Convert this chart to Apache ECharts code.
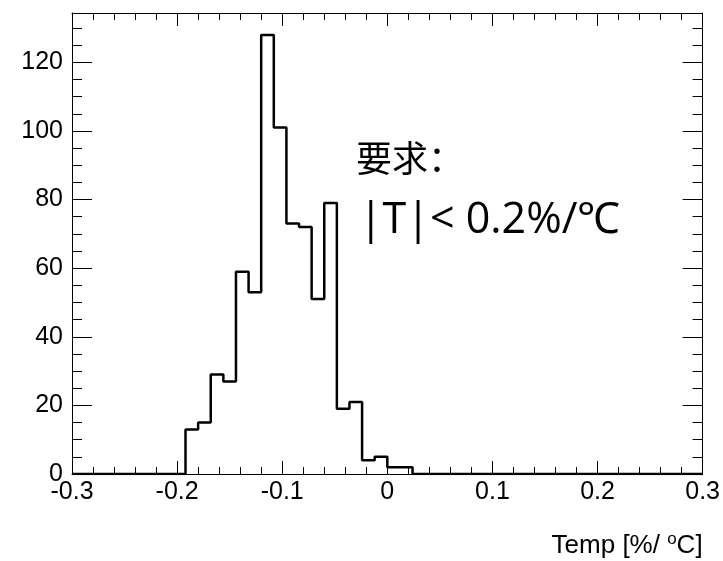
<!DOCTYPE html>
<html>
<head>
<meta charset="utf-8">
<script src="https://cdn.jsdelivr.net/npm/echarts@6/dist/echarts.min.js"></script>
<style>html,body{margin:0;padding:0;background:#fff}#c{width:723px;height:561px}</style>
</head>
<body>
<div id="c"></div>
<script>
// Histogram: 50 bins from -0.3 to 0.3 (width 0.012)
var xMin = -0.3;
var xMax = 0.3;
var binWidth = 0.012;
var counts = [0,0,0,0,0,0,0,0,0,13,15,29,27,59,53,128,101,73,72,51,79,19,21,4,5,2,2,0,0,0,0,0,0,0,0,0,0,0,0,0,0,0,0,0,0,0,0,0,0,0];
var yMax = 134.4;
var xTicks = [-0.3,-0.2,-0.1,0,0.1,0.2,0.3];
var yTicks = [0,20,40,60,80,100,120];
var noteLine1 = '要求：';
var noteLine2 = '|T|< 0.2%/℃';

var stepData = [];
for (var i = 0; i < counts.length; i++) {
  stepData.push([+(xMin + i * binWidth).toFixed(4), counts[i]]);
}
stepData.push([xMax, counts[counts.length - 1]]);

var chart = echarts.init(document.getElementById('c'), null, {renderer: 'canvas'});
var axisLineStyle = {color: '#000', width: 1};
var lblFont = {fontFamily: 'Liberation Sans, Arial, sans-serif', fontSize: 25, color: '#000'};

chart.setOption({
  animation: false,
  backgroundColor: '#fff',
  grid: {left: 72, right: 19, top: 13, bottom: 87, containLabel: false},
  xAxis: [{
    type: 'value', min: xMin, max: xMax, interval: 0.1, position: 'bottom',
    axisLine: {show: true, onZero: false, lineStyle: axisLineStyle},
    axisTick: {show: true, inside: true, length: 13, lineStyle: axisLineStyle},
    minorTick: {show: true, splitNumber: 5, length: 7, lineStyle: axisLineStyle},
    splitLine: {show: false},
    axisLabel: Object.assign({margin: 6, formatter: function (v) {
      var r = Math.round(v * 10) / 10;
      return xTicks.indexOf(r) >= 0 ? String(r) : '';
    }}, lblFont),
    name: 'Temp [%/ {sup|o}C]',
    nameLocation: 'end', nameGap: 0,
    nameTextStyle: {
      fontFamily: 'Liberation Sans, Arial, sans-serif', fontSize: 26, color: '#000',
      align: 'right', verticalAlign: 'top', padding: [57, 0, 0, 0],
      rich: {sup: {fontSize: 17, verticalAlign: 'top', padding: [0, 0, 12, 0], fontFamily: 'Liberation Sans, Arial, sans-serif', color: '#000'}}
    }
  }, {
    type: 'value', min: xMin, max: xMax, interval: 0.1, position: 'top',
    axisLine: {show: true, onZero: false, lineStyle: axisLineStyle},
    axisTick: {show: true, inside: true, length: 13, lineStyle: axisLineStyle},
    minorTick: {show: true, splitNumber: 5, length: 7, lineStyle: axisLineStyle},
    splitLine: {show: false},
    axisLabel: {show: false}
  }],
  yAxis: [{
    type: 'value', min: 0, max: yMax, interval: 20, position: 'left',
    axisLine: {show: true, onZero: false, lineStyle: axisLineStyle},
    axisTick: {show: true, inside: true, length: 20, lineStyle: axisLineStyle},
    minorTick: {show: true, splitNumber: 4, length: 10, lineStyle: axisLineStyle},
    splitLine: {show: false},
    axisLabel: Object.assign({margin: 9, showMaxLabel: false, formatter: function (v) {
      return yTicks.indexOf(Math.round(v)) >= 0 && Math.abs(v - Math.round(v)) < 1e-6 ? String(Math.round(v)) : '';
    }}, lblFont)
  }, {
    type: 'value', min: 0, max: yMax, interval: 20, position: 'right',
    axisLine: {show: true, onZero: false, lineStyle: axisLineStyle},
    axisTick: {show: true, inside: true, length: 20, lineStyle: axisLineStyle},
    minorTick: {show: true, splitNumber: 4, length: 10, lineStyle: axisLineStyle},
    splitLine: {show: false},
    axisLabel: {show: false}
  }],
  series: [{
    type: 'line',
    step: 'end',
    data: stepData,
    xAxisIndex: 0, yAxisIndex: 0,
    symbol: 'none',
    lineStyle: {color: '#000', width: 2.5},
    z: 5
  }],
  graphic: [
    {type: 'text', left: 356, top: 140, style: {text: noteLine1, fontFamily: 'Noto Sans CJK SC', fontSize: 36, fill: '#000'}},
    {type: 'text', left: 359, top: 199, style: {text: noteLine2, fontFamily: 'Open Sans, sans-serif', fontSize: 43, fill: '#000'}}
  ]
});
</script>
</body>
</html>
